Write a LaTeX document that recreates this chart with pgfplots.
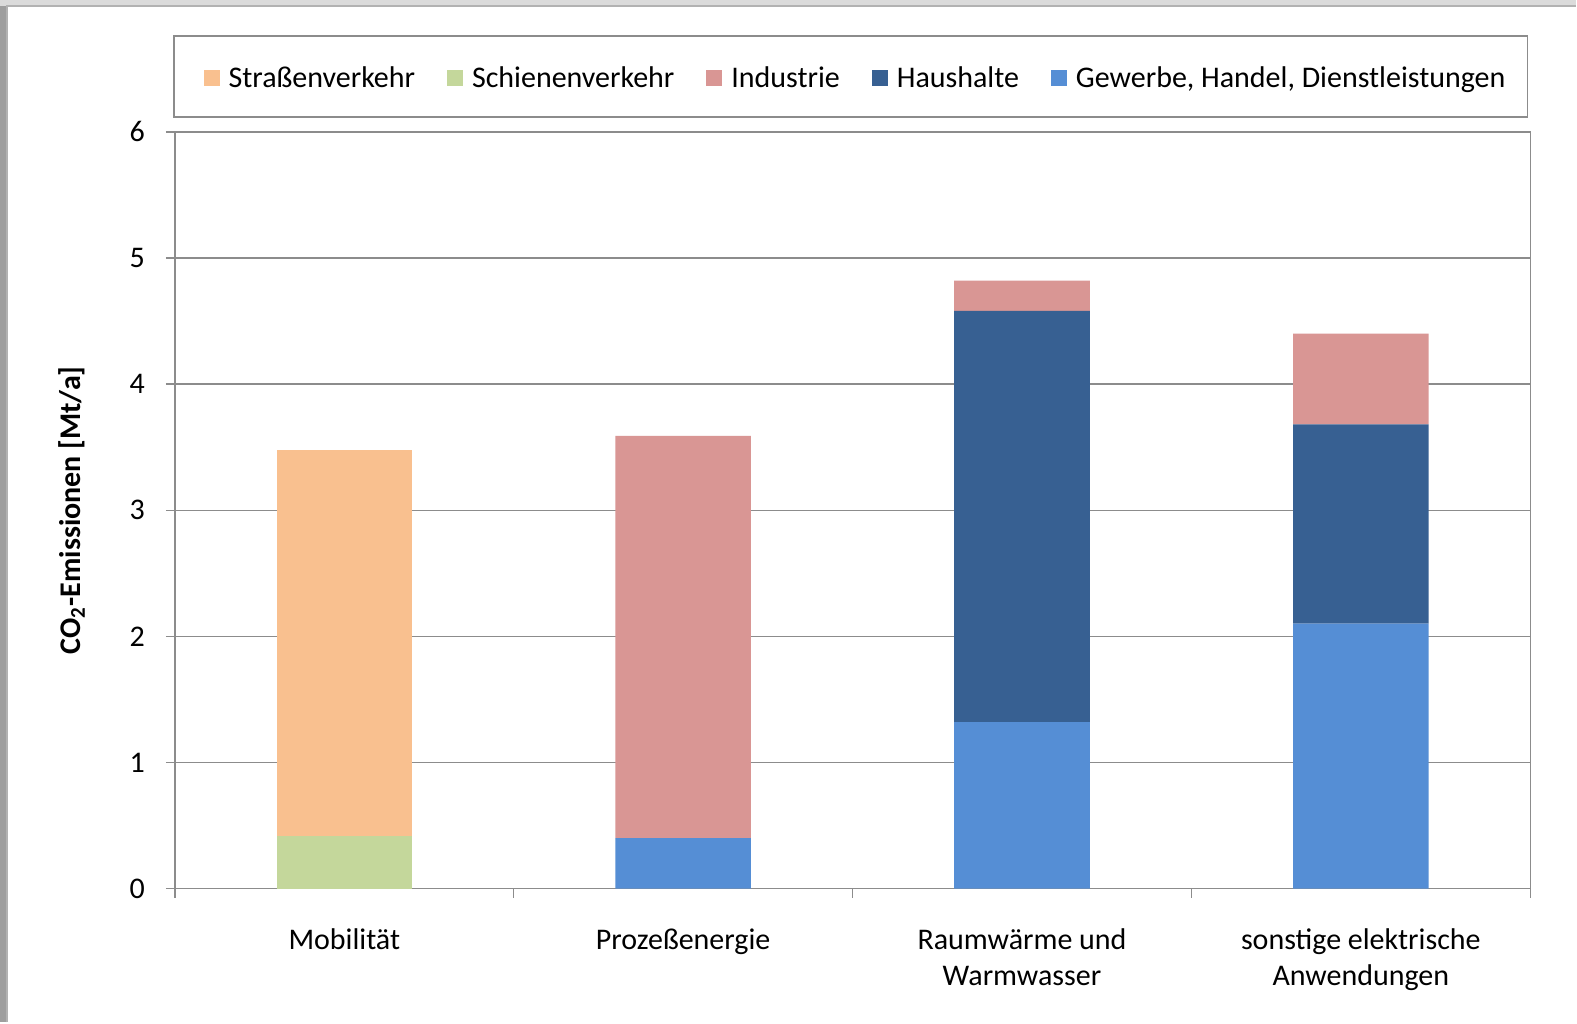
\documentclass[border=0pt]{standalone}
\usepackage{fontspec}
\setmainfont{Carlito}
\usepackage{pgfplots}
\pgfplotsset{compat=1.18}
\definecolor{cStr}{HTML}{F9C08F}
\definecolor{cSch}{HTML}{C4D79B}
\definecolor{cInd}{HTML}{D99694}
\definecolor{cHau}{HTML}{376092}
\definecolor{cGew}{HTML}{558ED5}
\definecolor{cAx}{HTML}{8C8C8C}
\begin{document}
\begin{tikzpicture}
\fill[white] (0,0) rectangle (788.5pt,511.5pt);
\fill[black!38] (0,0) rectangle (3.5pt,511.5pt);
\fill[black!14] (0,508.5pt) rectangle (788.5pt,511.5pt);
\draw[black!30,line width=0.8pt] (3.5pt,0) -- (3.5pt,508.5pt) -- (788.5pt,508.5pt);
\draw[black!45,line width=0.6pt] (87pt,453pt) rectangle (764pt,493.5pt);
\begin{axis}[
  at={(87.5pt,67pt)}, anchor=south west,
  scale only axis, width=678pt, height=378.5pt,
  ybar stacked, bar width=0.4,
  xmin=-0.5, xmax=3.5, ymin=0, ymax=6,
  tick pos=left,
  xtick={-0.5,0.5,1.5,2.5,3.5},
  xticklabels={},
  extra x ticks={0,1,2,3},
  extra x tick labels={Mobilität,Prozeßenergie,{Raumwärme und\\Warmwasser},{sonstige elektrische\\Anwendungen}},
  extra x tick style={major tick length=0pt, grid=none},
  x tick label style={align=center, font=\fontsize{15}{18}\selectfont, yshift=-16.5pt},
  ytick={0,1,2,3,4,5,6},
  y tick label style={font=\fontsize{15}{16}\selectfont, xshift=-7pt},
  /pgf/number format/assume math mode=true,
  ymajorgrids, grid style={cAx, line width=0.7pt},
  tick align=outside, major tick length=4.5pt,
  tick style={cAx, line width=0.7pt},
  axis line style={cAx, line width=0.7pt},
  ylabel={\textbf{CO\textsubscript{2}-Emissionen [Mt/a]}},
  every axis y label/.style={at={(axis description cs:-0.076,0.5)}, rotate=90, anchor=center, font=\fontsize{15}{16}\selectfont},
  legend columns=5, reverse legend,
  legend style={at={(axis description cs:0.5029,1.0707)}, anchor=center, draw=none, fill=none,
    font=\fontsize{15}{16}\selectfont,
    /tikz/every odd column/.append style={column sep=2.5pt},
    /tikz/every even column/.append style={column sep=14pt}},
  legend image code/.code={\fill[#1] (0pt,-4pt) rectangle (8pt,4pt);},
]
\addplot[fill=cGew, draw=none] coordinates {(0,0) (1,0.40) (2,1.32) (3,2.10)};
\addplot[fill=cHau, draw=none] coordinates {(0,0) (1,0) (2,3.26) (3,1.58)};
\addplot[fill=cInd, draw=none] coordinates {(0,0) (1,3.19) (2,0.24) (3,0.72)};
\addplot[fill=cSch, draw=none] coordinates {(0,0.42) (1,0) (2,0) (3,0)};
\addplot[fill=cStr, draw=none] coordinates {(0,3.06) (1,0) (2,0) (3,0)};
\legend{{Gewerbe, Handel, Dienstleistungen},Haushalte,Industrie,Schienenverkehr,Straßenverkehr}
\end{axis}
\end{tikzpicture}
\end{document}
